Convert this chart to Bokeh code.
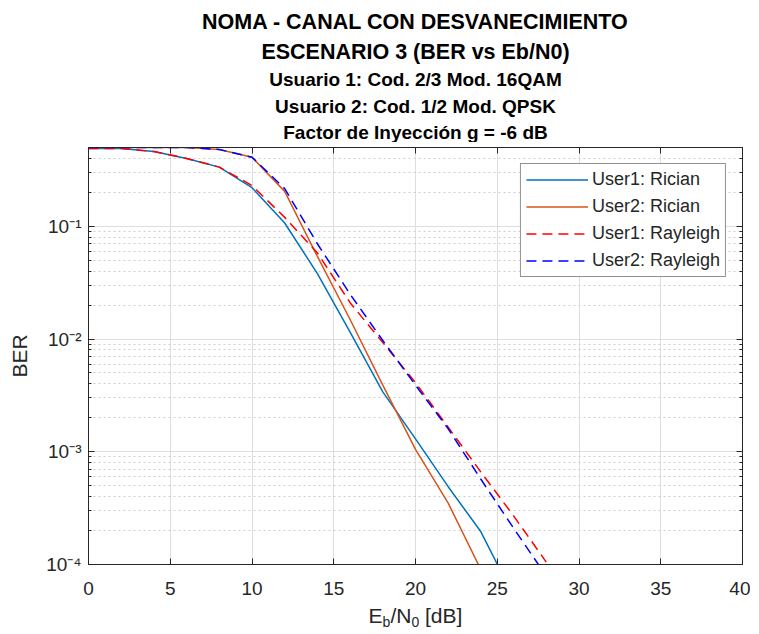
from bokeh.plotting import figure
from bokeh.layouts import column
from bokeh.models import Range1d, FixedTicker, LogAxis, LinearAxis
from bokeh.core.properties import value
from bokeh.embed import file_html
from bokeh.resources import INLINE

# ---------------- data ----------------
ebn0_db = [0, 2, 4, 6, 8, 10, 12, 14, 16, 18, 20, 22, 24, 26, 28]
ber_user1_rician = [0.49, 0.49, 0.46, 0.40, 0.335, 0.22, 0.107, 0.038, 0.0115,
                    0.0034, 0.0013, 4.9e-4, 1.95e-4, 5.2e-5, float("nan")]
ber_user2_rician = [0.50, 0.50, 0.50, 0.50, 0.48, 0.41, 0.204, 0.054, 0.0149,
                    0.0039, 0.00105, 3.5e-4, 9.0e-5, float("nan"), float("nan")]
ber_user1_rayleigh = [0.49, 0.49, 0.46, 0.40, 0.335, 0.23, 0.12, 0.058, 0.021,
                      0.0093, 0.0041, 1.65e-3, 6.6e-4, 2.7e-4, 1.05e-4]
ber_user2_rayleigh = [0.50, 0.50, 0.50, 0.50, 0.48, 0.41, 0.216, 0.070, 0.025,
                      0.0097, 0.0039, 1.6e-3, 5.7e-4, 2.1e-4, 7.9e-5]

series_labels = ["User1: Rician", "User2: Rician", "User1: Rayleigh", "User2: Rayleigh"]
title_lines = ["NOMA - CANAL CON DESVANECIMIENTO",
               "ESCENARIO 3 (BER vs Eb/N0)",
               "Usuario 1: Cod. 2/3 Mod. 16QAM",
               "Usuario 2: Cod. 1/2 Mod. QPSK",
               "Factor de Inyección g = -6 dB"]
x_ticks = [0, 5, 10, 15, 20, 25, 30, 35, 40]
y_decades = [-4, -3, -2, -1]
y_tick_text = {-4: "10⁻⁴", -3: "10⁻³", -2: "10⁻²", -1: "10⁻¹"}

# ---------------- layout constants ----------------
FONT = "Liberation Sans"
AX = "#262626"
W = 750
HH = 142                       # header (titles) height
FL, FR, FT, FB = 88, 8, 5, 40  # main figure borders
FH_MAIN = 417
HM = FT + FH_MAIN + FB
HF = 26                        # footer (x label) height
FW = W - FL - FR
CX = FL + FW / 2               # horizontal centre of the plot frame


def blank_fig(height):
    # frames of a column are aligned with the main plot frame, so the x range
    # is expressed in the main plot's horizontal pixel coordinates
    f = figure(width=W, height=height, output_backend="svg", toolbar_location=None,
               x_range=Range1d(FL, W - FR), y_range=Range1d(height, 0),
               x_axis_location=None, y_axis_location=None,
               min_border=0, min_border_left=FL, min_border_right=FR,
               min_border_top=0, min_border_bottom=0)
    f.title.visible = False
    f.grid.visible = False
    f.outline_line_color = None
    f.background_fill_color = "white"
    f.border_fill_color = "white"
    return f


# ---------------- header: title lines ----------------
hdr = blank_fig(HH)
title_y = [21, 51, 79, 106, 132]
title_size = ["21.5px", "21.5px", "19px", "19px", "19px"]
for t, yy, fs in zip(title_lines, title_y, title_size):
    hdr.text(x=[CX], y=[yy], text=[t], text_align="center", text_baseline="middle",
             text_font=value(FONT), text_font_size=fs, text_font_style="bold",
             text_color="black")

# ---------------- main plot ----------------
p = figure(width=W, height=HM, output_backend="svg", toolbar_location=None,
           y_axis_type="log", x_range=Range1d(0, 40), y_range=Range1d(1e-4, 0.5),
           min_border_left=FL, min_border_right=FR, min_border_top=FT,
           min_border_bottom=FB)
p.title.visible = False
p.outline_line_color = AX
p.outline_line_width = 1
p.background_fill_color = "white"
p.border_fill_color = "white"

major_y = [10.0 ** k for k in y_decades]
minor_y = [m * 10.0 ** k for k in y_decades for m in range(2, 10) if m * 10.0 ** k <= 0.5]
xt = FixedTicker(ticks=x_ticks)
yt = FixedTicker(ticks=major_y, minor_ticks=minor_y)

for ax in p.xaxis:
    ax.ticker = xt
    ax.axis_line_color = AX
    ax.major_tick_line_color = AX
    ax.major_tick_in = 6
    ax.major_tick_out = 0
    ax.minor_tick_line_color = None
    ax.major_label_text_font = FONT
    ax.major_label_text_font_size = "19px"
    ax.major_label_text_color = AX
    ax.major_label_standoff = 17

for ax in p.yaxis:
    ax.ticker = yt
    ax.axis_line_color = AX
    ax.major_tick_line_color = AX
    ax.minor_tick_line_color = AX
    ax.major_tick_in = 6
    ax.major_tick_out = 0
    ax.minor_tick_in = 3
    ax.minor_tick_out = 0
    ax.major_label_overrides = {10.0 ** k: s for k, s in y_tick_text.items()}
    ax.major_label_text_font = FONT
    ax.major_label_text_font_size = "19px"
    ax.major_label_text_color = AX
    ax.major_label_standoff = 7
    ax.axis_label = "BER"
    ax.axis_label_text_font = FONT
    ax.axis_label_text_font_size = "21px"
    ax.axis_label_text_font_style = "normal"
    ax.axis_label_text_color = AX
    ax.axis_label_standoff = 12

top = LinearAxis(ticker=xt, axis_line_color=AX, major_tick_line_color=AX,
                 major_tick_in=6, major_tick_out=0, minor_tick_line_color=None,
                 major_label_text_color=None, major_label_text_font_size="1px",
                 major_label_standoff=0)
right = LogAxis(ticker=yt, axis_line_color=AX, major_tick_line_color=AX,
                minor_tick_line_color=AX, major_tick_in=6, major_tick_out=0,
                minor_tick_in=3, minor_tick_out=0,
                major_label_text_color=None, major_label_text_font_size="1px",
                major_label_standoff=0)
p.add_layout(top, "above")
p.add_layout(right, "right")

p.xgrid.ticker = xt
p.ygrid.ticker = yt
p.xgrid.grid_line_color = "#dedede"
p.ygrid.grid_line_color = "#dedede"
p.ygrid.minor_grid_line_color = "#cfcfcf"
p.ygrid.minor_grid_line_dash = "2 3"

p.line(ebn0_db, ber_user1_rician, line_color="#0072BD", line_width=1.5,
       legend_label=series_labels[0])
p.line(ebn0_db, ber_user2_rician, line_color="#D95319", line_width=1.5,
       legend_label=series_labels[1])
p.line(ebn0_db, ber_user1_rayleigh, line_color="#FF0000", line_width=1.5,
       line_dash="10 6", legend_label=series_labels[2])
p.line(ebn0_db, ber_user2_rayleigh, line_color="#0000FF", line_width=1.5,
       line_dash="10 6", legend_label=series_labels[3])

lg = p.legend[0]
lg.location = "top_right"
lg.margin = 16
lg.border_line_color = AX
lg.border_line_width = 1
lg.background_fill_color = "white"
lg.background_fill_alpha = 1
lg.padding = 5
lg.spacing = 6
lg.glyph_height = 19
lg.label_height = 19
lg.glyph_width = 62
lg.label_standoff = 4
lg.label_text_font = FONT
lg.label_text_font_size = "18px"
lg.label_text_color = AX

# ---------------- footer: x axis label E_b/N_0 [dB] ----------------
ftr = blank_fig(HF)
xl_parts = ["E", "b", "/N", "0", "[dB]"]
xl_sizes = [21, 14, 21, 14, 21]
xl_em = [0.667, 0.556, 1.000, 0.556, 1.779]     # Arial-metric widths (em)
xl_gap = [0.0, 0.0, 0.0, 0.0, 0.278 * 21]        # a word space before "[dB]"
xl_dy = [0, 6, 0, 6, 0]
widths = [e * s for e, s in zip(xl_em, xl_sizes)]
x0 = CX - (sum(widths) + sum(xl_gap)) / 2
for txt, sz, dy, wd, gap in zip(xl_parts, xl_sizes, xl_dy, widths, xl_gap):
    x0 += gap
    ftr.text(x=[x0], y=[11 + dy], text=[txt], text_align="left",
             text_baseline="middle", text_font=value(FONT),
             text_font_size=f"{sz}px", text_color=AX)
    x0 += wd

layout = column(hdr, p, ftr, spacing=0)
open("out.html", "w").write(file_html(layout, INLINE))
